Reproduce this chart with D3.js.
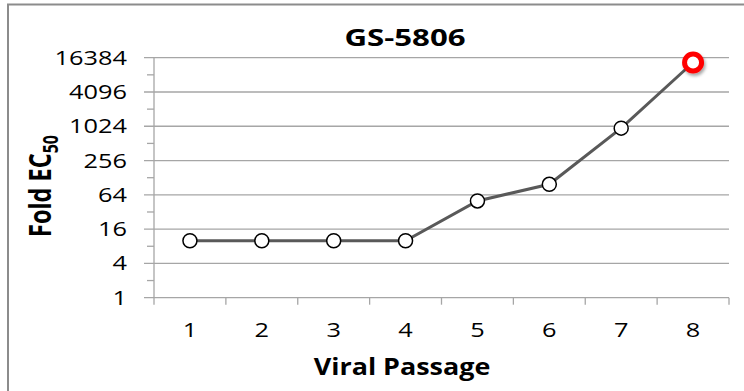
<!DOCTYPE html>
<html>
<head>
<meta charset="utf-8">
<script src="https://cdn.jsdelivr.net/npm/d3@7"></script>
<style>
  body { margin: 0; background: #fff; }
  text { font-family: "Open Sans", sans-serif; fill: #000; }
  .grid line { stroke: #a6a6a6; stroke-width: 1.3; }
</style>
</head>
<body>
<div id="chart"></div>
<script>
var passages = ["1", "2", "3", "4", "5", "6", "7", "8"];
var foldEC50 = [10, 10, 10, 10, 50, 98, 950, 13500];
var yTicks = [1, 4, 16, 64, 256, 1024, 4096, 16384];
var yMinorTicks = [2, 8, 32, 128, 512, 2048, 8192];
var chartTitle = "GS-5806";

(function () {
  'use strict'

  var W = 744, H = 391;
  var stretch = 1.3; // reference text looks horizontally stretched
  var margin = {top: 57.7, right: 15, bottom: 93.3, left: 154},
      width = W - margin.left - margin.right,
      height = H - margin.top - margin.bottom;

  var svg = d3.select("#chart").append("svg")
    .attr("width", W)
    .attr("height", H);

  var defs = svg.append("defs");
  var flt = defs.append("filter").attr("id", "shadow")
    .attr("x", "-50%").attr("y", "-50%").attr("width", "200%").attr("height", "200%");
  flt.append("feDropShadow")
    .attr("dx", 1.5).attr("dy", 2.5).attr("stdDeviation", 1.6)
    .attr("flood-color", "#000").attr("flood-opacity", 0.35);

  // outer frame
  svg.append("rect")
    .attr("x", 8).attr("y", 4.5)
    .attr("width", 900).attr("height", 600)
    .attr("fill", "none").attr("stroke", "#8c8c8c").attr("stroke-width", 2);

  var g = svg.append("g")
    .attr("transform", "translate(" + margin.left + "," + margin.top + ")");

  var x = d3.scaleBand().domain(passages).range([0, width]);
  var y = d3.scaleLog().base(2).domain([1, 16384]).range([height, 0]);

  // horizontal gridlines + major ticks
  g.append("g").attr("class", "grid")
    .selectAll("line")
    .data(yTicks)
    .enter().append("line")
    .attr("x1", -10)
    .attr("x2", width)
    .attr("y1", function(d) { return y(d); })
    .attr("y2", function(d) { return y(d); });

  // minor ticks
  g.append("g").attr("class", "grid")
    .selectAll("line")
    .data(yMinorTicks)
    .enter().append("line")
    .attr("x1", -7).attr("x2", 0)
    .attr("y1", function(d) { return y(d); })
    .attr("y2", function(d) { return y(d); });

  // y axis line
  g.append("g").attr("class", "grid").append("line")
    .attr("x1", 0).attr("x2", 0)
    .attr("y1", 0).attr("y2", height);

  // x ticks at band edges
  var edges = passages.map(function(d) { return x(d); }).concat([width]);
  g.append("g").attr("class", "grid")
    .selectAll("line")
    .data(edges)
    .enter().append("line")
    .attr("x1", function(d) { return d; })
    .attr("x2", function(d) { return d; })
    .attr("y1", height).attr("y2", height + 7);

  function stretchedText(parent, tx, ty, str, size, weight, anchor, rotate, sx) {
    var t = parent.append("g")
      .attr("transform", "translate(" + tx + "," + ty + ") scale(" + (sx || stretch) + ",1)" + (rotate ? " rotate(" + rotate + ")" : ""))
      .append("text")
      .attr("text-anchor", anchor)
      .style("font-size", size + "px")
      .style("font-weight", weight);
    if (str !== null) t.text(str);
    return t;
  }

  // y tick labels
  yTicks.forEach(function(d) {
    stretchedText(g, -27, y(d) + 7, String(d), 19.5, "normal", "end");
  });

  // x tick labels
  passages.forEach(function(d) {
    stretchedText(g, x(d) + x.bandwidth() / 2, height + 39.5, d, 19.5, "normal", "middle");
  });

  // line
  var line = d3.line()
    .x(function(d, i) { return x(passages[i]) + x.bandwidth() / 2; })
    .y(function(d) { return y(d); });

  g.append("path")
    .datum(foldEC50)
    .attr("d", line)
    .attr("fill", "none")
    .attr("stroke", "#595959")
    .attr("stroke-width", 3);

  var last = foldEC50.length - 1;
  g.selectAll(".pt")
    .data(foldEC50)
    .enter().append("circle")
    .attr("class", "pt")
    .attr("cx", function(d, i) { return x(passages[i]) + x.bandwidth() / 2; })
    .attr("cy", function(d) { return y(d); })
    .attr("r", function(d, i) { return i === last ? 8.5 : 7; })
    .attr("fill", "#fff")
    .attr("stroke", function(d, i) { return i === last ? "#ff0000" : "#000"; })
    .attr("stroke-width", function(d, i) { return i === last ? 5 : 1.5; })
    .attr("filter", function(d, i) { return i === last ? "url(#shadow)" : null; });

  // titles
  stretchedText(svg, 405, 46, chartTitle, 24, "bold", "middle");
  stretchedText(svg, 402, 375, "Viral Passage", 23, "bold", "middle", null, 1.17);

  var yl = stretchedText(svg, 51, 186, null, 23.5, "bold", "middle", -90);
  yl.append("tspan").text("Fold EC");
  yl.append("tspan").attr("dy", 5).style("font-size", "16px").text("50");
})()
</script>
</body>
</html>
